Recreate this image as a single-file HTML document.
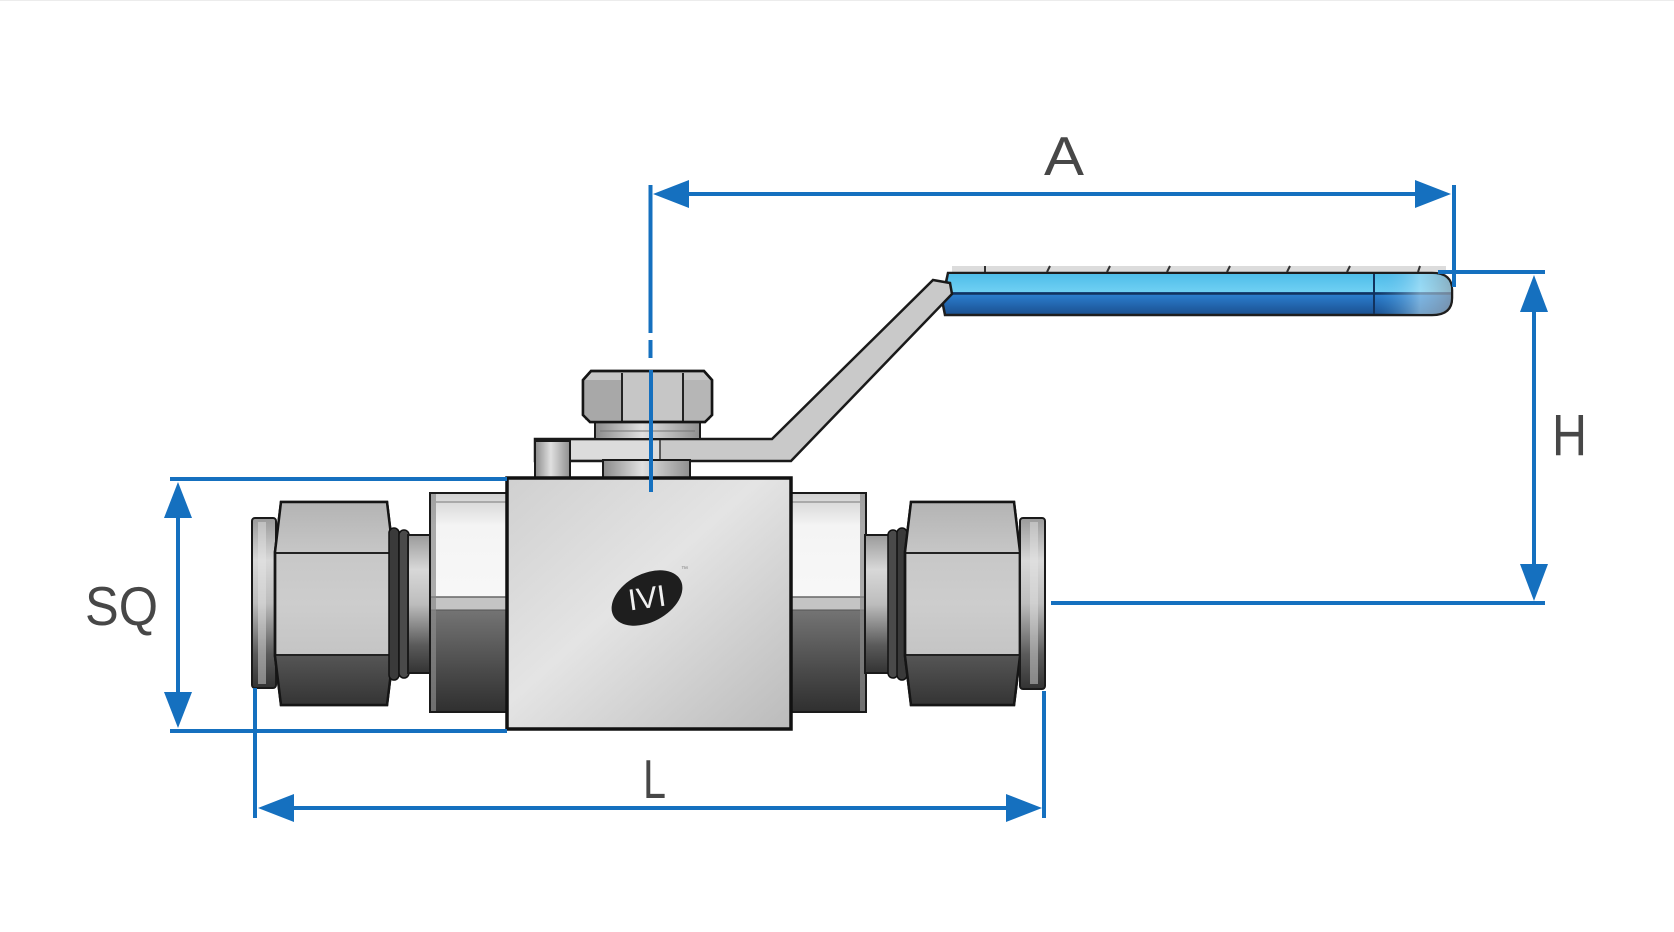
<!DOCTYPE html>
<html>
<head>
<meta charset="utf-8">
<style>
  html, body { margin:0; padding:0; background:#ffffff; }
  body { width:1674px; height:932px; overflow:hidden; }
  svg { display:block; }
  .dim { stroke:#1570bf; stroke-width:4; fill:none; }
  .ah { fill:#1570bf; }
  .lbl { font-family:"Liberation Sans", sans-serif; fill:#474747; }
</style>
</head>
<body>
<svg width="1674" height="932" viewBox="0 0 1674 932" xmlns="http://www.w3.org/2000/svg">
  <defs>
    <linearGradient id="gBody" x1="0" y1="0" x2="1" y2="1">
      <stop offset="0" stop-color="#d0d0d0"/>
      <stop offset="0.45" stop-color="#e4e4e4"/>
      <stop offset="1" stop-color="#bbbbbb"/>
    </linearGradient>
    <linearGradient id="gLight" x1="0" y1="0" x2="0" y2="1">
      <stop offset="0" stop-color="#d0d0d0"/>
      <stop offset="0.15" stop-color="#f4f4f4"/>
      <stop offset="0.7" stop-color="#fafafa"/>
      <stop offset="1" stop-color="#d8d8d8"/>
    </linearGradient>
    <linearGradient id="gDark" x1="0" y1="0" x2="0" y2="1">
      <stop offset="0" stop-color="#747474"/>
      <stop offset="0.6" stop-color="#4a4a4a"/>
      <stop offset="1" stop-color="#303030"/>
    </linearGradient>
    <linearGradient id="gNutTop" x1="0" y1="0" x2="0" y2="1">
      <stop offset="0" stop-color="#b4b4b4"/>
      <stop offset="1" stop-color="#c6c6c6"/>
    </linearGradient>
    <linearGradient id="gNutMid" x1="0" y1="0" x2="0" y2="1">
      <stop offset="0" stop-color="#c2c2c2"/>
      <stop offset="0.5" stop-color="#cdcdcd"/>
      <stop offset="1" stop-color="#bcbcbc"/>
    </linearGradient>
    <linearGradient id="gNutBot" x1="0" y1="0" x2="0" y2="1">
      <stop offset="0" stop-color="#555555"/>
      <stop offset="1" stop-color="#353535"/>
    </linearGradient>
    <linearGradient id="gCyl" x1="0" y1="0" x2="0" y2="1">
      <stop offset="0" stop-color="#9a9a9a"/>
      <stop offset="0.25" stop-color="#d8d8d8"/>
      <stop offset="0.5" stop-color="#bdbdbd"/>
      <stop offset="0.8" stop-color="#5a5a5a"/>
      <stop offset="1" stop-color="#333333"/>
    </linearGradient>
    <linearGradient id="gCylH" x1="0" y1="0" x2="1" y2="0">
      <stop offset="0" stop-color="#8a8a8a"/>
      <stop offset="0.45" stop-color="#e0e0e0"/>
      <stop offset="1" stop-color="#8f8f8f"/>
    </linearGradient>
    <linearGradient id="gGripTop" x1="0" y1="0" x2="0" y2="1">
      <stop offset="0" stop-color="#4fbde9"/>
      <stop offset="1" stop-color="#6fd0f3"/>
    </linearGradient>
    <linearGradient id="gGripBot" x1="0" y1="0" x2="0" y2="1">
      <stop offset="0" stop-color="#1b63b8"/>
      <stop offset="0.5" stop-color="#2c7fd0"/>
      <stop offset="1" stop-color="#1a4f8f"/>
    </linearGradient>
    <linearGradient id="gGripEnd" x1="0" y1="0" x2="1" y2="0">
      <stop offset="0" stop-color="#3a9ee0" stop-opacity="0"/>
      <stop offset="0.6" stop-color="#bfe6f8" stop-opacity="0.55"/>
      <stop offset="1" stop-color="#9aa6b0" stop-opacity="0.7"/>
    </linearGradient>
  </defs>

  <rect x="0" y="0" width="1674" height="932" fill="#ffffff"/>
  <rect x="0" y="0" width="1674" height="1" fill="#ececec"/>

  <!-- ===== Lever / handle ===== -->
  <rect x="952" y="266" width="494" height="7" fill="#dcdcdc"/>
  <g stroke="#333" stroke-width="2">
    <line x1="985" y1="266" x2="985" y2="272"/>
    <line x1="1050" y1="266" x2="1047" y2="272"/>
    <line x1="1110" y1="266" x2="1107" y2="272"/>
    <line x1="1170" y1="266" x2="1167" y2="272"/>
    <line x1="1230" y1="266" x2="1227" y2="272"/>
    <line x1="1290" y1="266" x2="1287" y2="272"/>
    <line x1="1350" y1="266" x2="1347" y2="272"/>
    <line x1="1420" y1="266" x2="1418" y2="272"/>
  </g>
  <path d="M948 273 L1432 273 Q1452 273 1452 290 L1452 298 Q1452 315 1432 315 L945 315 L942 300 Z" fill="url(#gGripBot)" stroke="#1e1e1e" stroke-width="2.5"/>
  <path d="M949 274 L1432 274 Q1451 274 1451 290 L1451 292 L946 292 Z" fill="url(#gGripTop)"/>
  <line x1="946" y1="293.5" x2="1451" y2="293.5" stroke="#12335e" stroke-width="2.5"/>
  <path d="M1374 274 L1432 274 Q1451 274 1451 290 L1451 298 Q1451 314 1432 314 L1374 314 Z" fill="url(#gGripEnd)"/>
  <line x1="1374" y1="274" x2="1374" y2="314" stroke="#12335e" stroke-width="2"/>

  <!-- lever arm -->
  <path d="M535 439 L772 439 L933 280 L950 283 L952 294 L791 461 L535 461 Z" fill="#c9c9c9" stroke="#1a1a1a" stroke-width="2.5"/>
  <path d="M570 441 L660 441 L660 459 L570 459 Z" fill="#dcdcdc"/>
  <line x1="660" y1="440" x2="660" y2="460" stroke="#333" stroke-width="1.5"/>

  <!-- stop pin -->
  <rect x="535" y="441" width="35" height="37" fill="url(#gCylH)" stroke="#1a1a1a" stroke-width="2"/>
  <!-- stem piece -->
  <rect x="603" y="460" width="87" height="18" fill="url(#gCylH)" stroke="#1a1a1a" stroke-width="2"/>

  <!-- washer -->
  <rect x="595" y="422" width="105" height="17" fill="url(#gCylH)" stroke="#1a1a1a" stroke-width="2"/>
  <line x1="600" y1="431" x2="695" y2="431" stroke="#777" stroke-width="1"/>

  <!-- bonnet nut -->
  <path d="M591 371 L704 371 L712 380 L712 415 L705 422 L590 422 L583 415 L583 380 Z" fill="#c6c6c6" stroke="#151515" stroke-width="2.5"/>
  <rect x="585" y="380" width="37" height="40" fill="#a8a8a8"/>
  <rect x="683" y="380" width="27" height="40" fill="#b6b6b6"/>
  <line x1="622" y1="373" x2="622" y2="421" stroke="#222" stroke-width="2"/>
  <line x1="683" y1="373" x2="683" y2="421" stroke="#222" stroke-width="2"/>
  <path d="M591 371 L704 371 L712 380 L712 415 L705 422 L590 422 L583 415 L583 380 Z" fill="none" stroke="#151515" stroke-width="2.5"/>

  <!-- ===== Left fitting ===== -->
  <rect x="252" y="518" width="24" height="170" rx="3" fill="url(#gCyl)" stroke="#1a1a1a" stroke-width="2"/>
  <rect x="258" y="522" width="8" height="162" fill="#e6e6e6" opacity="0.45"/>
  <path d="M281 502 L387 502 L393 552 L393 656 L387 705 L281 705 L275 656 L275 552 Z" fill="url(#gNutMid)" stroke="#151515" stroke-width="2.5"/>
  <path d="M281 503 L387 503 L392 552 L276 552 Z" fill="url(#gNutTop)"/>
  <path d="M276 656 L392 656 L387 704 L281 704 Z" fill="url(#gNutBot)"/>
  <line x1="276" y1="553" x2="392" y2="553" stroke="#222" stroke-width="2"/>
  <line x1="276" y1="655" x2="392" y2="655" stroke="#222" stroke-width="2"/>
  <path d="M281 502 L387 502 L393 552 L393 656 L387 705 L281 705 L275 656 L275 552 Z" fill="none" stroke="#151515" stroke-width="2.5"/>
  <rect x="389" y="528" width="10" height="152" rx="5" fill="#3a3a3a" stroke="#111" stroke-width="1.5"/>
  <rect x="399" y="530" width="10" height="148" rx="5" fill="#4a4a4a" stroke="#111" stroke-width="1.5"/>
  <rect x="408" y="535" width="24" height="138" fill="url(#gCyl)" stroke="#1a1a1a" stroke-width="2"/>
  <rect x="430" y="493" width="77" height="219" fill="url(#gLight)" stroke="#1a1a1a" stroke-width="2"/>
  <rect x="431" y="610" width="75" height="101" fill="url(#gDark)"/>
  <rect x="431" y="597" width="75" height="13" fill="#c4c4c4"/>
  <line x1="431" y1="597" x2="506" y2="597" stroke="#666" stroke-width="1.5"/>
  <line x1="431" y1="610" x2="506" y2="610" stroke="#555" stroke-width="1"/>
  <rect x="431" y="494" width="5" height="217" fill="#8a8a8a" opacity="0.7"/>
  <line x1="436" y1="502" x2="506" y2="502" stroke="#999" stroke-width="1.5"/>

  <!-- ===== Right fitting ===== -->
  <rect x="791" y="493" width="75" height="219" fill="url(#gLight)" stroke="#1a1a1a" stroke-width="2"/>
  <rect x="792" y="610" width="73" height="101" fill="url(#gDark)"/>
  <rect x="792" y="597" width="73" height="13" fill="#c4c4c4"/>
  <line x1="792" y1="597" x2="865" y2="597" stroke="#666" stroke-width="1.5"/>
  <line x1="792" y1="610" x2="865" y2="610" stroke="#555" stroke-width="1"/>
  <rect x="860" y="494" width="5" height="217" fill="#8a8a8a" opacity="0.7"/>
  <line x1="792" y1="502" x2="860" y2="502" stroke="#999" stroke-width="1.5"/>
  <rect x="865" y="535" width="24" height="138" fill="url(#gCyl)" stroke="#1a1a1a" stroke-width="2"/>
  <rect x="888" y="530" width="10" height="148" rx="5" fill="#4a4a4a" stroke="#111" stroke-width="1.5"/>
  <rect x="897" y="528" width="10" height="152" rx="5" fill="#3a3a3a" stroke="#111" stroke-width="1.5"/>
  <path d="M911 502 L1014 502 L1020 552 L1020 656 L1014 705 L911 705 L905 656 L905 552 Z" fill="url(#gNutMid)" stroke="#151515" stroke-width="2.5"/>
  <path d="M911 503 L1014 503 L1019 552 L906 552 Z" fill="url(#gNutTop)"/>
  <path d="M906 656 L1019 656 L1014 704 L911 704 Z" fill="url(#gNutBot)"/>
  <line x1="906" y1="553" x2="1019" y2="553" stroke="#222" stroke-width="2"/>
  <line x1="906" y1="655" x2="1019" y2="655" stroke="#222" stroke-width="2"/>
  <path d="M911 502 L1014 502 L1020 552 L1020 656 L1014 705 L911 705 L905 656 L905 552 Z" fill="none" stroke="#151515" stroke-width="2.5"/>
  <rect x="1020" y="518" width="25" height="171" rx="3" fill="url(#gCyl)" stroke="#1a1a1a" stroke-width="2"/>
  <rect x="1030" y="522" width="8" height="162" fill="#e6e6e6" opacity="0.45"/>

  <!-- ===== Body ===== -->
  <rect x="507" y="478" width="284" height="251" fill="url(#gBody)" stroke="#111" stroke-width="3.5"/>

  <!-- logo -->
  <ellipse cx="647" cy="598" rx="38" ry="24" transform="rotate(-28 647 598)" fill="#1e1e1e"/>
  <text x="647" y="608" text-anchor="middle" transform="rotate(-8 647 598)" font-family="Liberation Sans, sans-serif" font-size="30" fill="#f0f0f0" textLength="38" lengthAdjust="spacingAndGlyphs">IVI</text>
  <text x="681" y="571" font-family="Liberation Sans, sans-serif" font-size="7" fill="#888">™</text>

  <!-- ===== Dimension lines ===== -->
  <line class="dim" x1="650.5" y1="185" x2="650.5" y2="333"/>
  <line class="dim" x1="650.5" y1="340" x2="650.5" y2="358"/>
  <line class="dim" x1="651" y1="370" x2="651" y2="492"/>
  <line class="dim" x1="670" y1="194" x2="1430" y2="194"/>
  <polygon class="ah" points="653,194 689,180 689,208"/>
  <polygon class="ah" points="1451,194 1415,180 1415,208"/>
  <line class="dim" x1="1454" y1="185" x2="1454" y2="287"/>
  <text class="lbl" x="1044" y="175" font-size="55" textLength="40" lengthAdjust="spacingAndGlyphs">A</text>

  <line class="dim" x1="1438" y1="272" x2="1545" y2="272"/>
  <line class="dim" x1="1534" y1="300" x2="1534" y2="580"/>
  <polygon class="ah" points="1534,275 1520,312 1548,312"/>
  <polygon class="ah" points="1534,601 1520,564 1548,564"/>
  <line class="dim" x1="1051" y1="603" x2="1545" y2="603"/>
  <text class="lbl" x="1552" y="455" font-size="58" textLength="35" lengthAdjust="spacingAndGlyphs">H</text>

  <line class="dim" x1="170" y1="479" x2="507" y2="479"/>
  <line class="dim" x1="170" y1="731" x2="507" y2="731"/>
  <line class="dim" x1="178" y1="500" x2="178" y2="710"/>
  <polygon class="ah" points="178,482 164,518 192,518"/>
  <polygon class="ah" points="178,728 164,692 192,692"/>
  <text class="lbl" x="85" y="625" font-size="55" textLength="73" lengthAdjust="spacingAndGlyphs">SQ</text>

  <line class="dim" x1="255" y1="688" x2="255" y2="818"/>
  <line class="dim" x1="1044" y1="691" x2="1044" y2="818"/>
  <line class="dim" x1="280" y1="808" x2="1020" y2="808"/>
  <polygon class="ah" points="258,808 294,794 294,822"/>
  <polygon class="ah" points="1042,808 1006,794 1006,822"/>
  <text class="lbl" x="643" y="798" font-size="55" textLength="23" lengthAdjust="spacingAndGlyphs">L</text>
</svg>
</body>
</html>
